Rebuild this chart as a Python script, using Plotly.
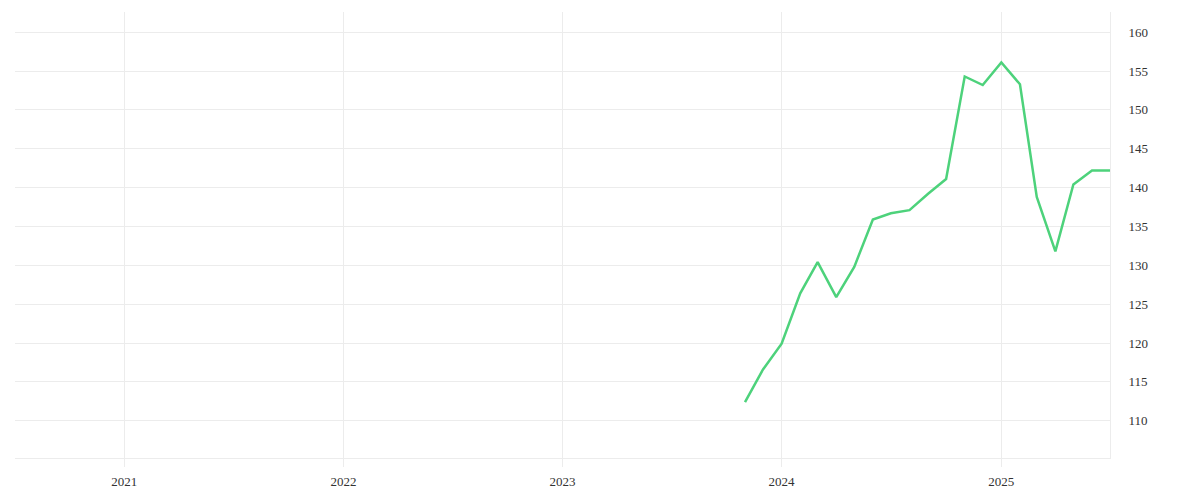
import plotly.graph_objects as go

months = [
    "2023-11-01", "2023-12-01", "2024-01-01", "2024-02-01", "2024-03-01",
    "2024-04-01", "2024-05-01", "2024-06-01", "2024-07-01", "2024-08-01",
    "2024-09-01", "2024-10-01", "2024-11-01", "2024-12-01", "2025-01-01",
    "2025-02-01", "2025-03-01", "2025-04-01", "2025-05-01", "2025-06-01",
    "2025-07-01",
]
values = [
    112.4, 116.6, 119.9, 126.4, 130.4,
    125.9, 129.8, 135.9, 136.7, 137.1,
    139.2, 141.1, 154.3, 153.2, 156.1,
    153.3, 138.8, 131.8, 140.4, 142.2,
    142.2,
]
year_ticks = ["2021-01-01", "2022-01-01", "2023-01-01", "2024-01-01", "2025-01-01"]
year_labels = ["2021", "2022", "2023", "2024", "2025"]
y_ticks = [110, 115, 120, 125, 130, 135, 140, 145, 150, 155, 160]

grid = "#ececec"

fig = go.Figure()
fig.add_trace(go.Scatter(
    x=months,
    y=values,
    mode="lines",
    line=dict(color="#4dd27b", width=2.5),
    hoverinfo="x+y",
))

# the page body has an 8px margin, so the margins here are 8px smaller
fig.update_layout(
    width=1200,
    height=500,
    paper_bgcolor="white",
    plot_bgcolor="white",
    showlegend=False,
    margin=dict(l=7, r=98, t=4, b=50),
    font=dict(family="Liberation Serif", size=13, color="#333333"),
)
fig.update_xaxes(
    type="date",
    range=["2020-07-03", "2025-07-01"],
    tickvals=year_ticks,
    ticktext=year_labels,
    showgrid=True,
    gridcolor=grid,
    gridwidth=1,
    ticks="outside",
    ticklen=8,
    tickcolor=grid,
    ticklabelstandoff=3,
    showline=True,
    linecolor=grid,
    zeroline=False,
)
fig.update_yaxes(
    side="right",
    range=[105.2, 162.6],
    tickvals=y_ticks,
    showgrid=True,
    gridcolor=grid,
    gridwidth=1,
    showline=True,
    linecolor=grid,
    ticks="",
    ticklabelstandoff=15,
    zeroline=False,
)

fig.write_html("out.html")
